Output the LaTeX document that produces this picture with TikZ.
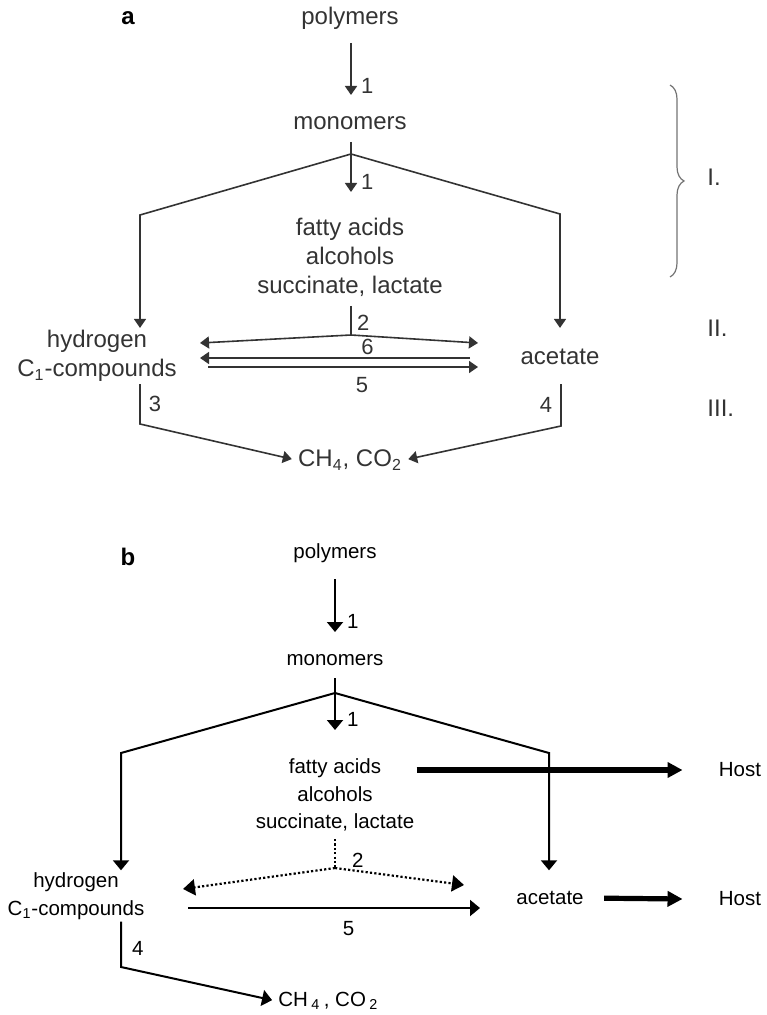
\documentclass[tikz,border=0pt]{standalone}
\usepackage{fontspec}
\setmainfont{Liberation Sans}
\usetikzlibrary{positioning,arrows.meta,calc,decorations.pathreplacing}

\begin{document}
\begin{tikzpicture}[x=0.5pt,y=-0.5pt,
  txa/.style={font=\fontsize{12}{14.5}\selectfont,text=black!80,inner sep=1pt,align=center},
  txb/.style={font=\fontsize{10.25}{13.75}\selectfont,inner sep=1pt,align=center},
  numa/.style={font=\fontsize{11}{13}\selectfont,text=black!80,inner sep=1pt},
  numb/.style={font=\fontsize{10.25}{12}\selectfont,inner sep=1pt},
  tag/.style={font=\bfseries\fontsize{12}{14}\selectfont,inner sep=1pt},
  lna/.style={draw=black!80,line width=0.8pt},
  ara/.style={lna,-{Triangle[length=4.5pt,width=6pt]}},
  lnb/.style={line width=1pt},
  arb/.style={lnb,-{Triangle[length=5pt,width=8pt]}},
  dotb/.style={line width=1.1pt,dash pattern=on 1.1pt off 1.1pt},
  fat/.style={line width=2.6pt,-{Triangle[length=7.5pt,width=7.5pt]}}]
\useasboundingbox (0,0) rectangle (766,1015);

% ---- a: full degradation chain
\node[tag] (tagA) at (128,18) {a};
\node[txa] (polyA) at (350,18) {polymers};
\node[txa] (monoA) at (350,123) {monomers};
\node[txa] (fattyA) at (350,257) {fatty acids\\alcohols\\succinate, lactate};
\node[txa] (hydA) at (97,356) {hydrogen\\C\textsubscript{1}-compounds};
\node[txa] (acetA) at (560,357) {acetate};
\node[txa] (ch4A) at (350,460) {CH\textsubscript{4}, CO\textsubscript{2}};

\coordinate (forkA) at (351,154);
\coordinate (cLA) at (140,215);
\coordinate (cRA) at (560,214);
\coordinate (twoA) at (351,335);
\coordinate (lA) at (200,343);
\coordinate (rA) at (478,343);
\coordinate (c3A) at (140,424);
\coordinate (c4A) at (561,426);

\draw[ara] ($(polyA)+(1,25)$) -- node[numa,right=3.7pt,pos=.83]{1} ($(monoA)+(1,-28)$);
\draw[ara] ($(monoA)+(1,19)$) -- node[numa,right=3.7pt,pos=.8]{1} ($(fattyA)+(1,-65)$);
\draw[ara] (forkA) -- (cLA) -- (cLA |- hydA.north);
\draw[ara] (forkA) -- (cRA) -- (cRA |- hydA.north);
\draw[lna] ($(fattyA)+(1,49)$) -- node[numa,right=1.7pt,pos=.59]{2} (twoA);
\draw[ara] (twoA) -- (lA);
\draw[ara] (twoA) -- (rA);
\draw[ara] ($(rA)+(-8,15)$) -- node[numa,above=0pt,pos=.38]{6} ($(lA)+(0,15)$);
\draw[ara] ($(lA)+(8,24)$) -- node[numa,below=3.7pt,pos=.57]{5} ($(rA)+(0,24)$);
\draw[ara,shorten >=2pt] (cLA |- hydA.south) -- node[numa,right=3pt]{3} (c3A) -- (ch4A.west);
\draw[ara,shorten >=2pt] (c4A |- hydA.south) -- node[numa,left=3pt]{4} (c4A) -- (ch4A.east);

% stages
\draw[black!55,line width=0.6pt,decorate,decoration={brace,amplitude=7pt}]
  (670,85) -- (670,277);
\node[txa,anchor=west] (stI) at (705,177) {I.};
\node[txa,anchor=west] (stII) at (705,328) {II.};
\node[txa,anchor=west] (stIII) at (705,408) {III.};

% ---- b: short chain with uptake by the host
\node[tag] (tagB) at (128,557) {b};
\node[txb] (polyB) at (335,553) {polymers};
\node[txb] (monoB) at (335,660) {monomers};
\node[txb] (fattyB) at (335,795) {fatty acids\\alcohols\\succinate, lactate};
\node[txb] (hydB) at (76,896) {hydrogen\\C\textsubscript{1}-compounds};
\node[txb] (acetB) at (550,898) {acetate};
\node[txb] (host1) at (740,770) {Host};
\node[txb] (host2) at (740,899) {Host};
\node[txb,anchor=west] (ch4B) at (276,1001)
  {CH\,\textsubscript{4}\,, CO\,\textsubscript{2}};

\coordinate (forkB) at (335,693);
\coordinate (cLB) at (121,753);
\coordinate (cRB) at (549,753);
\coordinate (twoB) at (335,868);
\coordinate (lB) at (183,889);
\coordinate (rB) at (464,885);
\coordinate (c4B) at (121,967);

\draw[arb] ($(polyB)+(0,26)$) -- node[numb,right=4.6pt,pos=.81]{1} ($(monoB)+(0,-28)$);
\draw[arb] ($(monoB)+(0,18)$) -- node[numb,right=4.6pt,pos=.8]{1} ($(fattyB)+(0,-65)$);
\draw[arb] (forkB) -- (cLB) -- (cLB |- hydB.north);
\draw[arb] (forkB) -- (cRB) -- (cRB |- hydB.north);
\draw[fat] (fattyB.east |- host1) -- ([xshift=-17pt]host1.west);
\draw[fat,shorten <=9pt] (acetB.east) -- ([xshift=-17pt]host2.west);
\draw[dotb] ($(fattyB)+(0,44)$) -- node[numb,right=7pt,pos=.72]{2} (twoB);
\draw[dotb,-{Triangle[length=6pt,width=8pt]}] (twoB) -- (lB);
\draw[dotb,-{Triangle[length=6pt,width=8pt]}] (twoB) -- (rB);
\draw[arb] ($(lB)+(5,19)$) -- node[numb,below=5.3pt,pos=.55]{5} ($(rB)+(16,23)$);
\draw[arb,shorten >=2pt] (cLB |- hydB.south) -- node[numb,right=4pt,pos=.6]{4} (c4B) -- (ch4B.west);
\end{tikzpicture}
\end{document}
